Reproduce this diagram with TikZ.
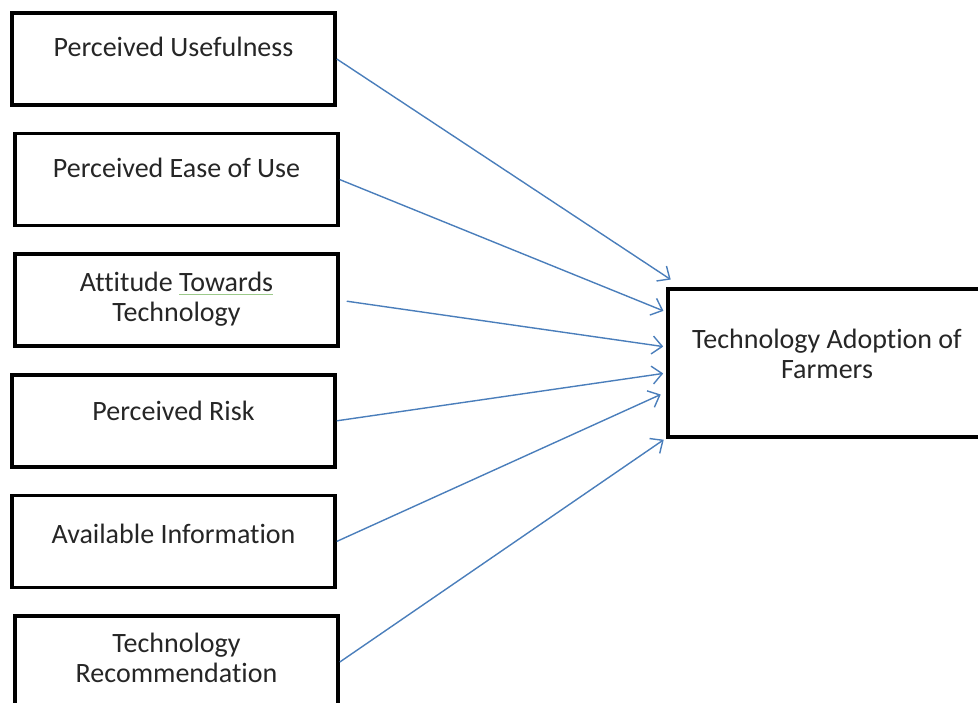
\documentclass[tikz,border=0pt]{standalone}
\usepackage{fontspec}
\setmainfont{Carlito}[Ligatures=NoCommon]
\usepackage{xcolor}
\usetikzlibrary{arrows.meta,positioning,calc}

\definecolor{linkblue}{HTML}{4A7EBB}
\definecolor{spellgreen}{HTML}{9CC98A}

% word with a thin green line under it
\newcommand{\greenline}[1]{\setbox0\hbox{#1}\rlap{\textcolor{spellgreen}{\rule[-2pt]{\wd0}{0.5pt}}}#1}

\begin{document}
\begin{tikzpicture}[
  x=0.5pt, y=0.5pt,
  font=\fontsize{14}{15}\selectfont,
  >={Straight Barb[length=5pt,width=9pt]},
  box/.style={draw, line width=1.8pt, minimum width=161.5pt,
              minimum height=46pt, inner sep=0pt},
  boxtext/.style={anchor=north, align=center, inner sep=0pt, text=black!85},
  arr/.style={->, draw=linkblue, line width=0.7pt, shorten >=1.5pt},
  node distance=12.5pt]
\path[use as bounding box, clip] (0,0) rectangle (978,-702);

% factors on the left
\node[box] (pu) at (173.5,-59) {};
\node[box, below=of pu, xshift=1.5pt] (peou) {};
\node[box, below=of peou] (att) {};
\node[box, below=of att, xshift=-1.5pt] (pr) {};
\node[box, below=of pr] (ai) {};
\node[box, below=of ai, xshift=1.5pt] (tr) {};

% outcome on the right
\node[box, minimum width=159pt, minimum height=74pt] (tao) at (827,-363) {};

% texts hang from the top of each box
\node[boxtext, below=12.5pt of pu.north] (pu-t) {Perceived Usefulness};
\node[boxtext, below=13pt of peou.north] (peou-t) {Perceived Ease of Use};
\node[boxtext, below=9.5pt of att.north] (att-t) {Attitude \greenline{Towards}\\Technology};
\node[boxtext, below=14pt of pr.north] (pr-t) {Perceived Risk};
\node[boxtext, below=15pt of ai.north] (ai-t) {Available Information};
\node[boxtext, below=9pt of tr.north] (tr-t) {Technology\\Recommendation};
\node[boxtext, below=20.5pt of tao.north] (tao-t) {Technology Adoption of\\Farmers};

\draw[arr] (pu.east) -- ($(tao.north west)+(7,6)$);
\draw[arr] (peou.east) -- ($(tao.west)+(0,51)$);
\draw[arr, shorten <=3.5pt] (att.east) -- ($(tao.west)+(0,16)$);
\draw[arr] (pr.east) -- ($(tao.west)+(0,-10)$);
\draw[arr, shorten >=3pt] (ai.east) -- ($(tao.west)+(0,-29)$);
\draw[arr] (tr.east) -- ($(tao.west)+(0,-75)$);
\end{tikzpicture}
\end{document}
